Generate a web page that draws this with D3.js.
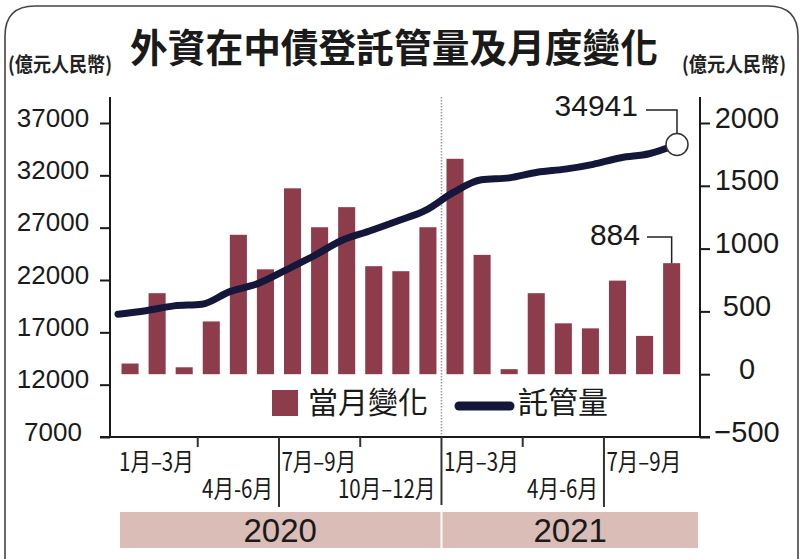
<!DOCTYPE html>
<html>
<head>
<meta charset="utf-8">
<script src="https://cdn.jsdelivr.net/npm/d3@7"></script>
<style>
  body { margin: 0; background: #fff; }
  svg { display: block; }
  .cjk { font-family: "Noto Sans CJK TC", "Noto Sans CJK SC", sans-serif; }
  .num { font-family: "Liberation Sans", Arial, sans-serif; }
</style>
</head>
<body>
<div id="chart"></div>
<script>
// ------------------------------------------------------------
// Data
// ------------------------------------------------------------
const months = [
  "2020-01", "2020-02", "2020-03", "2020-04", "2020-05", "2020-06",
  "2020-07", "2020-08", "2020-09", "2020-10", "2020-11", "2020-12",
  "2021-01", "2021-02", "2021-03", "2021-04", "2021-05", "2021-06",
  "2021-07", "2021-08", "2021-09"
];
// monthly change, 億元人民幣 (right axis)
const monthlyChange = [
  85, 645, 55, 420, 1110, 835, 1480, 1170, 1330, 860, 820, 1170,
  1715, 950, 40, 645, 405, 365, 745, 305, 884
];
// custody holdings, 億元人民幣 (left axis)
const custody = [
  18735, 19070, 19530, 19690, 20890, 21655, 22950, 24290, 25775, 26685, 27640, 28650,
  30370, 31570, 31760, 32290, 32590, 33050, 33680, 34060, 34941
];
const leftTicks = [7000, 12000, 17000, 22000, 27000, 32000, 37000];
const rightTicks = [-500, 0, 500, 1000, 1500, 2000];
const quarterLabels = ["1月–3月", "4月-6月", "7月–9月", "10月–12月", "1月–3月", "4月-6月", "7月–9月"];
const years = ["2020", "2021"];

// ------------------------------------------------------------
// Layout
// ------------------------------------------------------------
const width = 800;
const height = 559;
const axisLeftX = 110;
const axisRightX = 700;
const axisTop = 97;
const axisBottom = 437;

const barColor = "#8d3c4b";
const lineColor = "#15173a";
const inkColor = "#1a1a1a";

const svg = d3.select("#chart")
  .append("svg")
  .attr("width", width)
  .attr("height", height);

const x = d3.scaleBand()
  .domain(months)
  .range([116.5, 685.2])
  .paddingInner(0.37)
  .paddingOuter(0.185);

const xLine = d3.scalePoint()
  .domain(months)
  .range([118, 677]);

const yL = d3.scaleLinear().domain([7000, 37000]).range([axisBottom, 123]);
const yR = d3.scaleLinear().domain([-500, 2000]).range([axisBottom, 123]);

// squeeze a text to a fraction of its natural width
function squeeze(sel, k) {
  sel.each(function() {
    const w = this.getComputedTextLength();
    d3.select(this).attr("textLength", w * k).attr("lengthAdjust", "spacingAndGlyphs");
  });
}

// ------------------------------------------------------------
// Frame, title, units
// ------------------------------------------------------------
svg.append("path")
  .attr("d", "M5,559 L5,36 Q5,6 35,6 L768,6 Q798,6 798,36 L798,559")
  .attr("fill", "none")
  .attr("stroke", "#444")
  .attr("stroke-width", 1.6);

svg.append("text")
  .attr("class", "cjk")
  .attr("x", 394)
  .attr("y", 62)
  .attr("text-anchor", "middle")
  .attr("font-size", 39)
  .attr("font-weight", 700)
  .attr("fill", inkColor)
  .text("外資在中債登託管量及月度變化")
  .attr("textLength", 528)
  .attr("lengthAdjust", "spacingAndGlyphs");

[8, 682].forEach(ux => {
  svg.append("text")
    .attr("class", "cjk")
    .attr("x", ux)
    .attr("y", 72)
    .attr("font-size", 20)
    .attr("font-weight", 700)
    .attr("fill", "#222")
    .text("(億元人民幣)")
    .attr("textLength", 104)
    .attr("lengthAdjust", "spacingAndGlyphs");
});

// ------------------------------------------------------------
// Year divider (dotted inside the plot)
// ------------------------------------------------------------
const step = x.step();
const x0 = x.range()[0];
const boundary = k => x0 + k * 3 * step;   // k-th quarter boundary

svg.append("line")
  .attr("x1", boundary(4)).attr("x2", boundary(4))
  .attr("y1", axisTop).attr("y2", axisBottom)
  .attr("stroke", "#999")
  .attr("stroke-width", 1.5)
  .attr("stroke-dasharray", "1.5,1.5");

// ------------------------------------------------------------
// Bars
// ------------------------------------------------------------
svg.append("g")
  .selectAll("rect")
  .data(months)
  .join("rect")
  .attr("x", d => x(d))
  .attr("width", x.bandwidth())
  .attr("y", (d, i) => yR(Math.max(0, monthlyChange[i])))
  .attr("height", (d, i) => Math.abs(yR(monthlyChange[i]) - yR(0)))
  .attr("fill", barColor);

// ------------------------------------------------------------
// Custody line
// ------------------------------------------------------------
const line = d3.line()
  .x((d, i) => xLine(months[i]))
  .y(d => yL(d))
  .curve(d3.curveMonotoneX);

svg.append("path")
  .datum(custody)
  .attr("d", line)
  .attr("fill", "none")
  .attr("stroke", lineColor)
  .attr("stroke-width", 7)
  .attr("stroke-linecap", "round")
  .attr("stroke-linejoin", "round");

// ------------------------------------------------------------
// Axes
// ------------------------------------------------------------
const gL = svg.append("g")
  .attr("transform", `translate(${axisLeftX},0)`)
  .call(d3.axisLeft(yL).tickValues(leftTicks).tickSize(10).tickSizeOuter(0).tickFormat(d3.format("d")));
gL.select(".domain").remove();
gL.selectAll(".tick line").attr("stroke", inkColor).attr("stroke-width", 2);
gL.selectAll(".tick text")
  .attr("class", "num")
  .attr("x", -57)
  .attr("y", 3)
  .attr("dy", null)
  .attr("text-anchor", "middle")
  .attr("font-size", 26)
  .attr("fill", inkColor);

const gR = svg.append("g")
  .attr("transform", `translate(${axisRightX},0)`)
  .call(d3.axisRight(yR).tickValues(rightTicks).tickSize(10).tickSizeOuter(0).tickFormat(d3.format("d")));
gR.select(".domain").remove();
gR.selectAll(".tick line").attr("stroke", inkColor).attr("stroke-width", 2);
gR.selectAll(".tick text")
  .attr("class", "num")
  .attr("x", 47)
  .attr("y", 4)
  .attr("dy", null)
  .attr("text-anchor", "middle")
  .attr("font-size", 29)
  .attr("fill", inkColor);

[axisLeftX, axisRightX].forEach(ax => {
  svg.append("line")
    .attr("x1", ax).attr("x2", ax)
    .attr("y1", axisTop).attr("y2", axisBottom)
    .attr("stroke", inkColor)
    .attr("stroke-width", 2);
});

svg.append("line")
  .attr("x1", axisLeftX - 10).attr("x2", axisRightX + 10)
  .attr("y1", axisBottom).attr("y2", axisBottom)
  .attr("stroke", inkColor)
  .attr("stroke-width", 2);

// quarter ticks below the axis: long at half-years and year, short otherwise
const tickLen = [0, 10, 70, 10, 68, 10, 70];
svg.append("g")
  .selectAll("line")
  .data(d3.range(1, 7))
  .join("line")
  .attr("x1", k => boundary(k)).attr("x2", k => boundary(k))
  .attr("y1", axisBottom).attr("y2", k => axisBottom + tickLen[k])
  .attr("stroke", "#333")
  .attr("stroke-width", 2);

// quarter labels: odd quarters on row 1 (left aligned), even on row 2 (right aligned)
svg.append("g")
  .selectAll("text")
  .data(quarterLabels)
  .join("text")
  .attr("class", "cjk")
  .attr("x", (d, i) => i % 2 === 0 ? boundary(i) + 2.5 : boundary(i + 1) - 6)
  .attr("y", (d, i) => i % 2 === 0 ? 471 : 498)
  .attr("text-anchor", (d, i) => i % 2 === 0 ? "start" : "end")
  .attr("font-size", 25)
  .attr("fill", inkColor)
  .text(d => d)
  .call(squeeze, 0.82);

// year band
const yearSpans = [[x0 + 3.5, boundary(4) - 1], [boundary(4) + 1, axisRightX - 2]];
svg.append("g")
  .selectAll("rect")
  .data(years)
  .join("rect")
  .attr("x", (d, i) => yearSpans[i][0])
  .attr("width", (d, i) => yearSpans[i][1] - yearSpans[i][0])
  .attr("y", 512)
  .attr("height", 36)
  .attr("fill", "#d9bdb6");

svg.append("g")
  .selectAll("text")
  .data(years)
  .join("text")
  .attr("class", "num")
  .attr("x", (d, i) => (yearSpans[i][0] + yearSpans[i][1]) / 2)
  .attr("y", 542)
  .attr("text-anchor", "middle")
  .attr("font-size", 33)
  .attr("fill", inkColor)
  .text(d => d);

// ------------------------------------------------------------
// Annotations
// ------------------------------------------------------------
const last = months.length - 1;
const endX = xLine(months[last]);
const endY = yL(custody[last]);
const r = 11;

svg.append("circle")
  .attr("cx", endX)
  .attr("cy", endY)
  .attr("r", r)
  .attr("fill", "#fff")
  .attr("stroke", "#333")
  .attr("stroke-width", 1.5);

svg.append("path")
  .attr("d", `M646,110 H${endX} V${endY - r}`)
  .attr("fill", "none")
  .attr("stroke", "#222")
  .attr("stroke-width", 1.5);

svg.append("text")
  .attr("class", "num")
  .attr("x", 638)
  .attr("y", 116)
  .attr("text-anchor", "end")
  .attr("font-size", 30)
  .attr("fill", inkColor)
  .text(d3.format("d")(custody[last]));

const barMid = x(months[last]) + x.bandwidth() / 2;
svg.append("path")
  .attr("d", `M647,237 H${barMid} V${yR(monthlyChange[last])}`)
  .attr("fill", "none")
  .attr("stroke", "#222")
  .attr("stroke-width", 1.5);

svg.append("text")
  .attr("class", "num")
  .attr("x", 640)
  .attr("y", 245)
  .attr("text-anchor", "end")
  .attr("font-size", 30)
  .attr("fill", inkColor)
  .text(monthlyChange[last]);

// ------------------------------------------------------------
// Legend
// ------------------------------------------------------------
svg.append("rect")
  .attr("x", 272).attr("y", 390)
  .attr("width", 26).attr("height", 26)
  .attr("fill", barColor);

svg.append("text")
  .attr("class", "cjk")
  .attr("x", 308).attr("y", 413)
  .attr("font-size", 30)
  .attr("fill", inkColor)
  .text("當月變化");

svg.append("line")
  .attr("x1", 459).attr("x2", 510)
  .attr("y1", 406).attr("y2", 406)
  .attr("stroke", lineColor)
  .attr("stroke-width", 9)
  .attr("stroke-linecap", "round");

svg.append("text")
  .attr("class", "cjk")
  .attr("x", 518).attr("y", 413)
  .attr("font-size", 30)
  .attr("fill", inkColor)
  .text("託管量");
</script>
</body>
</html>
